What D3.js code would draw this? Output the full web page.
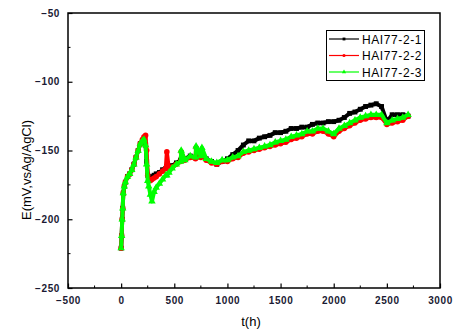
<!DOCTYPE html>
<html>
<head>
<meta charset="utf-8">
<script src="https://cdn.jsdelivr.net/npm/d3@7"></script>
<style>
  body { margin: 0; background: #fff; }
  text { font-family: "Liberation Sans", Arial, sans-serif; }
</style>
</head>
<body>
<div id="chart"></div>
<script>
// time points (h), shared by the three runs
const hours = [0, 5, 10, 15, 20, 30, 40, 60, 80, 100, 120, 140, 160, 180, 200, 215, 230, 240, 250, 260, 275, 290, 310, 330, 360, 390, 420, 430, 450, 480, 520, 560, 565, 600, 650, 700, 705, 750, 760, 800, 850, 900, 950, 1000, 1050, 1100, 1150, 1200, 1250, 1300, 1350, 1400, 1450, 1500, 1550, 1600, 1650, 1700, 1750, 1800, 1850, 1900, 1950, 2000, 2050, 2100, 2150, 2200, 2250, 2300, 2350, 2400, 2450, 2500, 2550, 2600, 2650, 2700];

const run1 = [-221, -212, -200, -192, -181, -176, -173, -169, -167, -164, -160, -155, -150, -145, -143, -142, -146, -158, -168, -170, -170, -169, -168, -167, -166, -164, -163, -163, -162, -161, -159, -157, -157, -156, -154, -155, -155, -154, -154, -156, -158, -160, -158, -156, -153, -150, -146, -143, -143, -141, -140, -139, -137, -137, -136, -134, -134, -133, -133, -131, -130, -130, -129, -129, -128, -126, -123, -122, -120, -118, -117, -116, -118, -129, -124, -124, -124, -125];
const run2 = [-221, -212, -200, -192, -181, -176, -173, -169, -167, -164, -160, -155, -150, -145, -142, -140, -139, -150, -168, -171, -172, -171, -170, -169, -167, -165, -163, -151, -164, -162, -160, -158, -151, -157, -155, -156, -148, -155, -150, -157, -159, -160, -158, -158, -156, -155, -152, -151, -150, -149, -148, -147, -146, -145, -144, -142, -141, -140, -138, -138, -136, -136, -138, -140, -136, -134, -132, -130, -128, -127, -126, -126, -126, -131, -130, -129, -128, -125];
const run3 = [-221, -212, -200, -192, -181, -176, -173, -169, -167, -164, -160, -155, -150, -145, -143, -142, -146, -160, -172, -176, -182, -187, -180, -177, -174, -171, -168, -168, -166, -163, -160, -158, -150, -157, -154, -155, -147, -154, -148, -156, -158, -159, -157, -157, -155, -154, -151, -150, -149, -148, -147, -146, -144, -143, -142, -140, -139, -138, -136, -136, -134, -134, -136, -138, -134, -132, -130, -128, -126, -125, -124, -124, -124, -130, -128, -127, -126, -124];

const seriesNames = ["HAI77-2-1", "HAI77-2-2", "HAI77-2-3"];
const seriesColors = ["#000000", "#ff0000", "#00ff00"];
const seriesSymbols = [d3.symbolSquare, d3.symbolCircle, d3.symbolTriangle];

const xTicks = [-500, 0, 500, 1000, 1500, 2000, 2500, 3000];
const yTicks = [-250, -200, -150, -100, -50];

const width = 457, height = 336;
const margin = {top: 13, right: 17, bottom: 48, left: 68};
const innerW = width - margin.left - margin.right;
const innerH = height - margin.top - margin.bottom;

const svg = d3.select("#chart").append("svg")
    .attr("width", width)
    .attr("height", height);

const g = svg.append("g")
    .attr("transform", `translate(${margin.left},${margin.top})`);

const x = d3.scaleLinear().domain([-500, 3000]).range([0, innerW]);
const y = d3.scaleLinear().domain([-250, -50]).range([innerH, 0]);

// curves, drawn thick like the dense noisy originals
const series = [run1, run2, run3];
const line = d3.line()
    .x((d, i) => x(hours[i]))
    .y(d => y(d));

series.forEach((vals, k) => {
    g.append("path")
        .datum(vals)
        .attr("fill", "none")
        .attr("stroke", seriesColors[k])
        .attr("stroke-width", 4)
        .attr("stroke-linejoin", "round")
        .attr("d", line);

    g.selectAll(".m" + k)
        .data(vals)
        .enter().append("path")
        .attr("transform", (d, i) => `translate(${x(hours[i])},${y(d)})`)
        .attr("d", d3.symbol().type(seriesSymbols[k]).size(24))
        .attr("fill", seriesColors[k]);
});

// frame
g.append("rect")
    .attr("width", innerW)
    .attr("height", innerH)
    .attr("fill", "none")
    .attr("stroke", "#000")
    .attr("stroke-width", 1.5);

// minor ticks
const xMinor = d3.range(-250, 3000, 500);
const yMinor = d3.range(-225, -50, 50);
g.selectAll(".xminor").data(xMinor).enter().append("line")
    .attr("x1", d => x(d)).attr("x2", d => x(d))
    .attr("y1", innerH).attr("y2", innerH - 2.5)
    .attr("stroke", "#000");
g.selectAll(".yminor").data(yMinor).enter().append("line")
    .attr("y1", d => y(d)).attr("y2", d => y(d))
    .attr("x1", 0).attr("x2", 2.5)
    .attr("stroke", "#000");

// axes
const xAxis = g.append("g")
    .attr("transform", `translate(0,${innerH})`)
    .call(d3.axisBottom(x).tickValues(xTicks).tickFormat(d3.format("d")).tickSize(-4.5).tickPadding(9));
const yAxis = g.append("g")
    .call(d3.axisLeft(y).tickValues(yTicks).tickFormat(d3.format("d")).tickSize(-4.5).tickPadding(8));

[xAxis, yAxis].forEach(a => {
    a.select(".domain").remove();
    a.selectAll("line").attr("stroke", "#000").attr("stroke-width", 1.2);
    a.selectAll("text")
        .style("font-size", "10px")
        .style("font-weight", "bold")
        .style("letter-spacing", "0.6px")
        .attr("fill", "#1a1a33");
});

// axis titles
svg.append("text")
    .attr("x", 251)
    .attr("y", 326)
    .attr("text-anchor", "middle")
    .style("font-size", "13px")
    .text("t(h)");

svg.append("text")
    .attr("transform", "translate(31,170) rotate(-90)")
    .attr("text-anchor", "middle")
    .style("font-size", "13px")
    .text("E(mV,vsAg/AgCl)");

// legend
const legend = svg.append("g");
legend.append("rect")
    .attr("x", 326.5).attr("y", 30.5)
    .attr("width", 98).attr("height", 50)
    .attr("fill", "#fff")
    .attr("stroke", "#000");

const items = legend.selectAll(".item")
    .data(seriesNames)
    .enter().append("g")
    .attr("transform", (d, i) => `translate(0,${39 + i * 16.5})`);

items.append("line")
    .attr("x1", 329).attr("x2", 359)
    .attr("stroke", (d, i) => seriesColors[i])
    .attr("stroke-width", 1.2);

items.append("path")
    .attr("transform", "translate(344,0)")
    .attr("d", (d, i) => d3.symbol().type(seriesSymbols[i]).size(8)())
    .attr("fill", (d, i) => seriesColors[i]);

items.append("text")
    .attr("x", 362)
    .attr("y", 4.5)
    .style("font-size", "12px")
    .style("letter-spacing", "0.6px")
    .text(d => d);
</script>
</body>
</html>
